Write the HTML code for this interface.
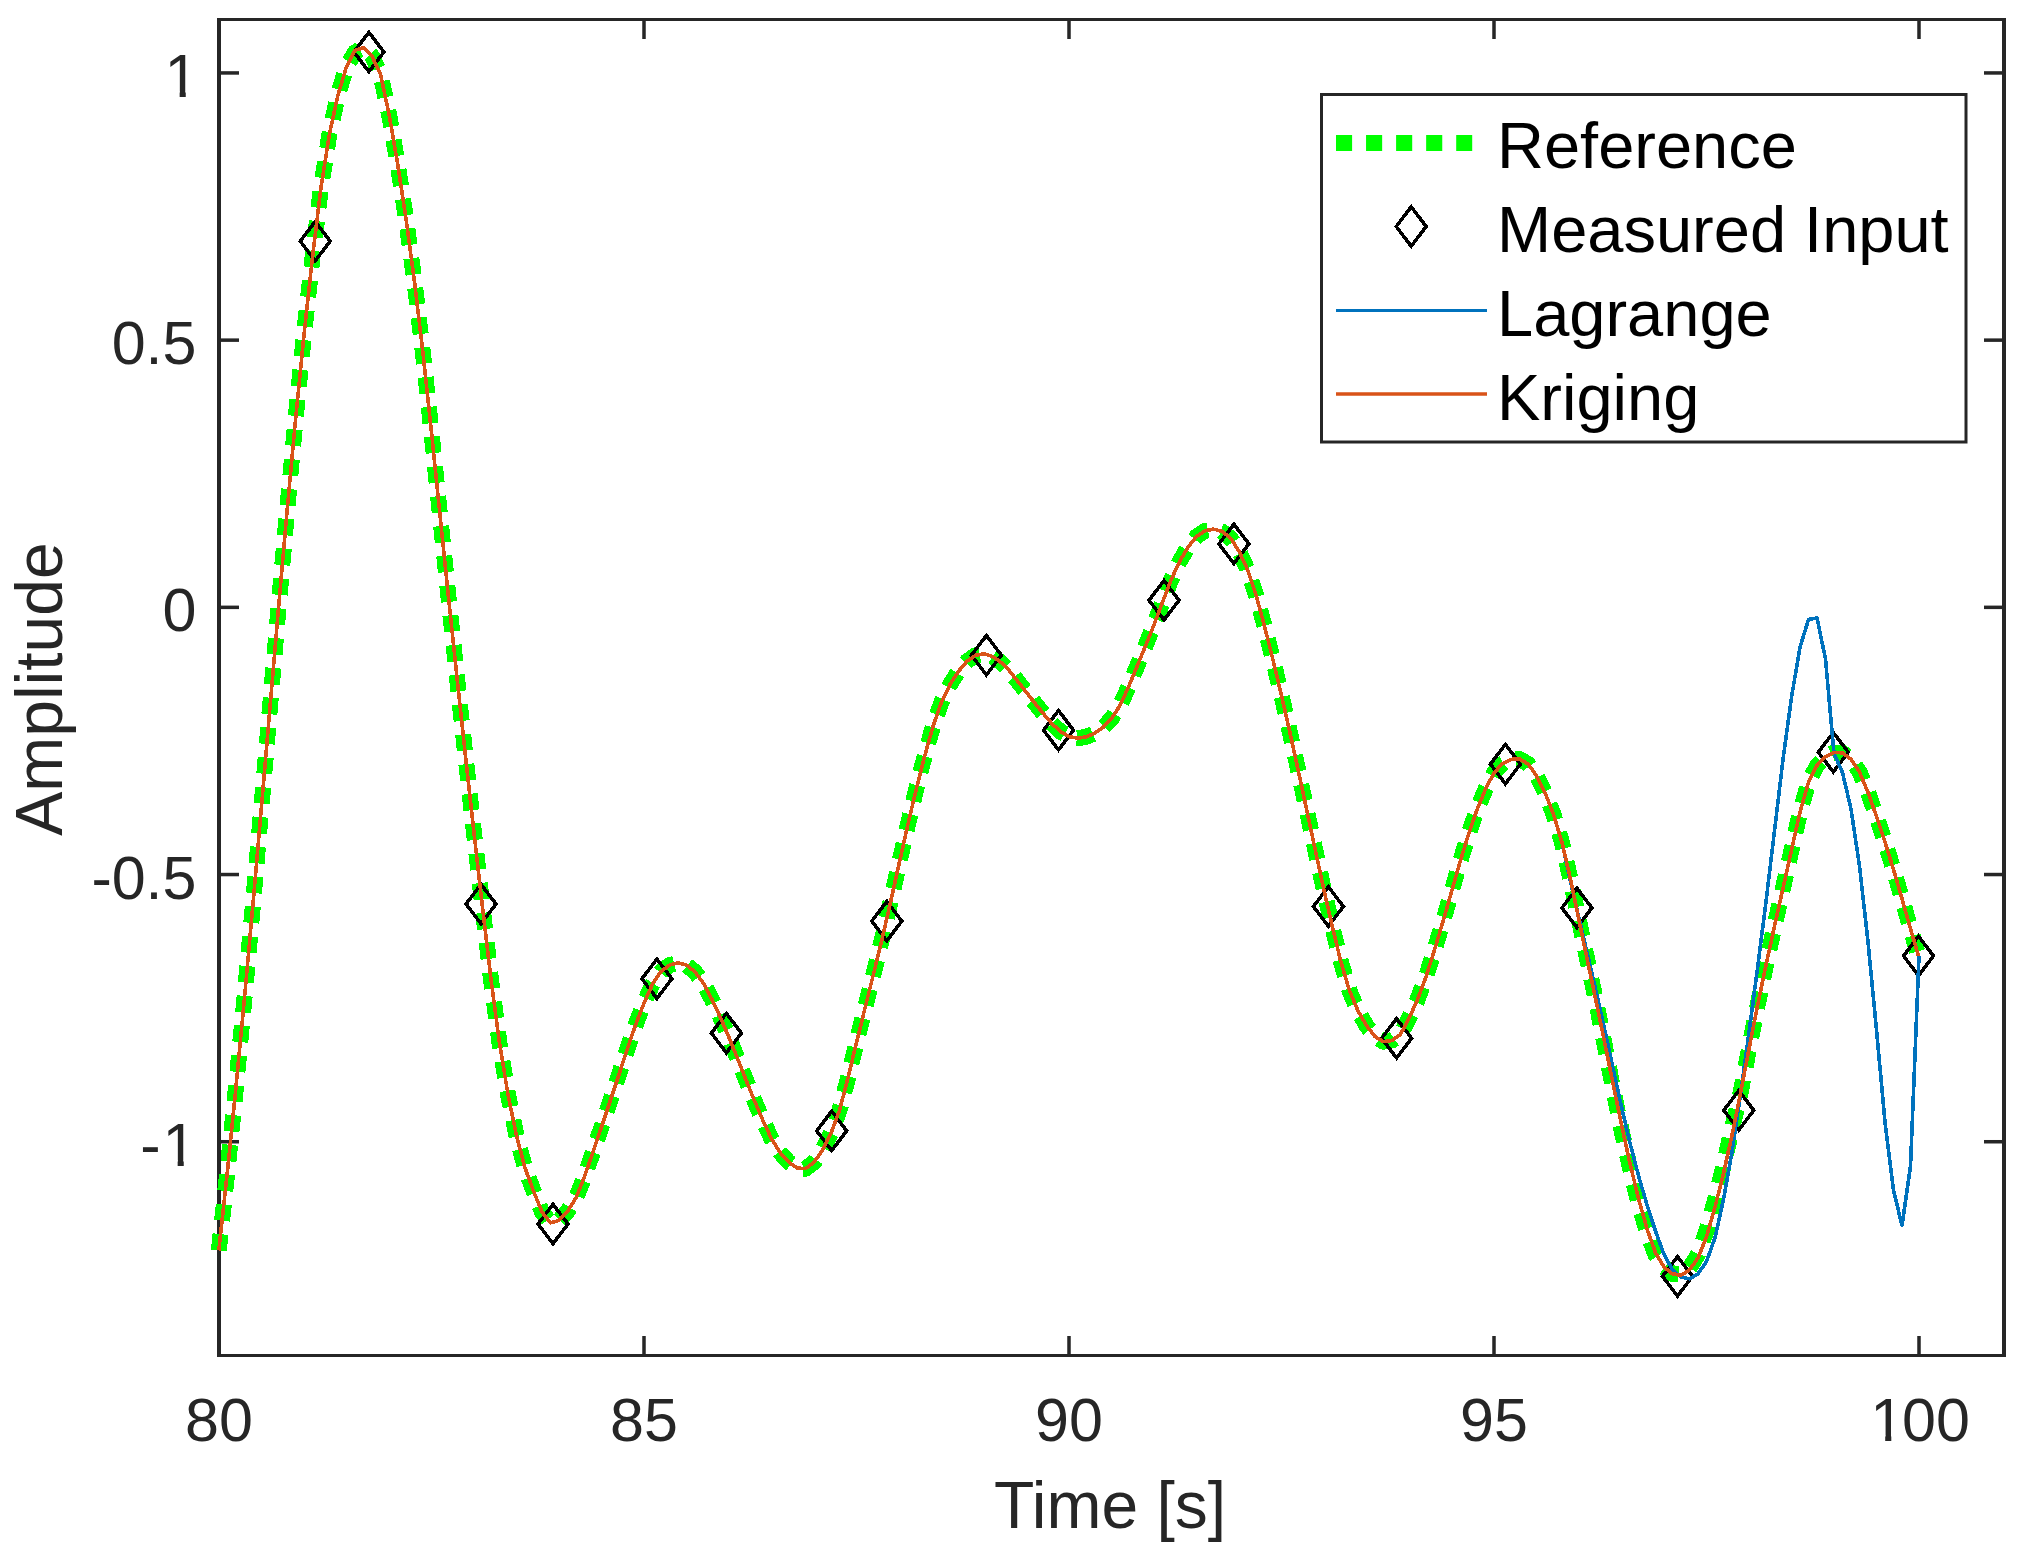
<!DOCTYPE html>
<html><head><meta charset="utf-8"><title>Interpolation comparison</title>
<style>
html,body{margin:0;padding:0;background:#fff;}
svg{display:block;}
text{font-family:"Liberation Sans",sans-serif;}
.tk{font-size:61px;fill:#262626;}
.lb{font-size:66px;fill:#262626;}
.lg{font-size:65px;fill:#000;}
</style></head><body>
<svg width="2025" height="1559" viewBox="0 0 2025 1559">
<rect x="0" y="0" width="2025" height="1559" fill="#fff"/>

<g fill="#262626">
<rect x="217" y="18" width="1789" height="3"/>
<rect x="217" y="1354" width="1789" height="3"/>
<rect x="217" y="18" width="4" height="1339"/>
<rect x="2002" y="18" width="4" height="1339"/>
<rect x="642.25" y="1336" width="3.5" height="19"/>
<rect x="642.25" y="20" width="3.5" height="19"/>
<rect x="1067.25" y="1336" width="3.5" height="19"/>
<rect x="1067.25" y="20" width="3.5" height="19"/>
<rect x="1492.25" y="1336" width="3.5" height="19"/>
<rect x="1492.25" y="20" width="3.5" height="19"/>
<rect x="1917.25" y="1336" width="3.5" height="19"/>
<rect x="1917.25" y="20" width="3.5" height="19"/>
<rect x="220" y="71.19" width="19" height="3.5"/>
<rect x="1984" y="71.19" width="19" height="3.5"/>
<rect x="220" y="338.39" width="19" height="3.5"/>
<rect x="1984" y="338.39" width="19" height="3.5"/>
<rect x="220" y="605.59" width="19" height="3.5"/>
<rect x="1984" y="605.59" width="19" height="3.5"/>
<rect x="220" y="872.79" width="19" height="3.5"/>
<rect x="1984" y="872.79" width="19" height="3.5"/>
<rect x="220" y="1139.99" width="19" height="3.5"/>
<rect x="1984" y="1139.99" width="19" height="3.5"/>
</g>

<path d="M218.8,1250.5 L227.5,1170.6 L236.0,1086.9 L244.5,997.8 L253.0,903.9 L261.5,806.3 L270.0,707.0 L278.5,608.2 L287.0,511.8 L295.5,420.0 L304.0,334.7 L312.5,257.1 L321.0,187.5 L329.5,133.6 L338.0,94.9 L346.5,66.6 L355.0,52.3 L363.5,47.7 L372.0,56.2 L380.5,74.3 L389.0,114.0 L397.5,163.1 L406.0,218.6 L414.5,281.8 L423.0,353.3 L431.5,432.4 L440.0,515.2 L448.5,597.2 L457.0,677.6 L465.5,756.2 L474.0,832.8 L482.5,907.3 L491.0,979.4 L499.5,1043.2 L508.0,1094.5 L516.5,1135.8 L525.0,1167.9 L533.5,1191.0 L542.0,1212.0 L550.5,1222.9 L559.0,1220.4 L567.5,1211.4 L576.0,1197.9 L584.5,1176.6 L593.0,1152.0 L601.5,1126.9 L610.0,1101.7 L618.5,1076.0 L627.0,1049.9 L635.5,1025.1 L644.0,1003.1 L652.5,984.2 L661.0,971.4 L669.5,965.1 L678.0,962.9 L686.5,965.1 L695.0,971.9 L703.5,983.5 L712.0,999.5 L720.5,1017.7 L729.0,1037.5 L737.5,1058.5 L746.0,1079.9 L754.5,1100.9 L763.0,1120.7 L771.5,1138.8 L780.0,1152.5 L788.5,1161.9 L797.0,1168.0 L805.5,1168.7 L814.0,1162.4 L822.5,1150.0 L831.0,1133.2 L839.5,1110.3 L848.0,1078.1 L856.5,1042.3 L865.0,1008.1 L873.5,974.2 L882.0,939.3 L890.5,902.3 L899.0,864.1 L907.5,826.2 L916.0,790.1 L924.5,756.7 L933.0,726.3 L941.5,702.1 L950.0,684.5 L958.5,671.3 L967.0,661.3 L975.5,655.3 L984.0,653.8 L992.5,656.5 L1001.0,662.4 L1009.5,670.9 L1018.0,681.6 L1026.5,692.5 L1035.0,703.3 L1043.5,713.8 L1052.0,723.7 L1060.5,731.6 L1069.0,736.6 L1077.5,738.2 L1086.0,736.9 L1094.5,733.3 L1103.0,727.5 L1111.5,718.7 L1120.0,705.4 L1128.5,687.0 L1137.0,666.5 L1145.5,645.9 L1154.0,624.7 L1162.5,602.3 L1171.0,580.1 L1179.5,561.5 L1188.0,547.2 L1196.5,536.6 L1205.0,530.8 L1213.5,529.1 L1222.0,531.4 L1230.5,538.1 L1239.0,551.1 L1247.5,569.7 L1256.0,594.8 L1264.5,626.1 L1273.0,659.9 L1281.5,695.5 L1290.0,732.9 L1298.5,771.7 L1307.0,811.3 L1315.5,851.2 L1324.0,890.3 L1332.5,927.5 L1341.0,962.2 L1349.5,990.8 L1358.0,1010.9 L1366.5,1025.6 L1375.0,1036.6 L1383.5,1041.7 L1392.0,1040.5 L1400.5,1034.3 L1409.0,1018.3 L1417.5,999.6 L1426.0,976.8 L1434.5,949.9 L1443.0,921.4 L1451.5,891.8 L1460.0,862.2 L1468.5,834.2 L1477.0,809.8 L1485.5,789.2 L1494.0,772.8 L1502.5,763.6 L1511.0,759.4 L1519.5,758.9 L1528.0,763.9 L1536.5,775.6 L1545.0,792.5 L1553.5,814.3 L1562.0,842.6 L1570.5,879.1 L1579.0,920.4 L1587.5,960.8 L1596.0,1001.0 L1604.5,1044.0 L1613.0,1088.4 L1621.5,1130.1 L1630.0,1168.3 L1638.5,1202.7 L1647.0,1232.3 L1655.5,1254.7 L1664.0,1267.6 L1672.5,1274.0 L1681.0,1274.7 L1689.5,1267.9 L1698.0,1254.6 L1706.5,1230.7 L1715.0,1200.3 L1723.5,1165.6 L1732.0,1128.4 L1740.5,1093.1 L1749.0,1049.0 L1757.5,1005.7 L1766.0,965.1 L1774.5,926.3 L1783.0,888.1 L1791.5,850.0 L1800.0,812.1 L1808.5,782.3 L1817.0,765.5 L1825.5,756.7 L1834.0,752.5 L1842.5,752.8 L1851.0,759.2 L1859.5,772.0 L1868.0,792.4 L1876.5,816.4 L1885.0,842.1 L1893.5,869.6 L1902.0,898.7 L1910.5,928.8 L1918.5,955.9" fill="none" stroke="#00ff00" stroke-width="16" stroke-dasharray="16.45 13.48" stroke-linejoin="round" shape-rendering="crispEdges"/>

<path d="M315.2,221.5 L330.2,241.2 L315.2,260.9 L300.2,241.2Z M368.9,32.3 L383.9,52.0 L368.9,71.7 L353.9,52.0Z M481.0,884.3 L496.0,904.0 L481.0,923.7 L466.0,904.0Z M553.0,1204.3 L568.0,1224.0 L553.0,1243.7 L538.0,1224.0Z M656.9,959.1 L671.9,978.8 L656.9,998.5 L641.9,978.8Z M726.4,1013.4 L741.4,1033.1 L726.4,1052.8 L711.4,1033.1Z M831.7,1111.2 L846.7,1130.9 L831.7,1150.6 L816.7,1130.9Z M886.8,901.4 L901.8,921.1 L886.8,940.8 L871.8,921.1Z M986.4,635.5 L1001.4,655.2 L986.4,674.9 L971.4,655.2Z M1058.5,710.5 L1073.5,730.2 L1058.5,749.9 L1043.5,730.2Z M1164.0,580.6 L1179.0,600.3 L1164.0,620.0 L1149.0,600.3Z M1233.9,524.2 L1248.9,543.9 L1233.9,563.6 L1218.9,543.9Z M1328.4,886.8 L1343.4,906.5 L1328.4,926.2 L1313.4,906.5Z M1396.6,1018.6 L1411.6,1038.3 L1396.6,1058.0 L1381.6,1038.3Z M1505.4,744.4 L1520.4,764.1 L1505.4,783.8 L1490.4,764.1Z M1576.9,888.2 L1591.9,907.9 L1576.9,927.6 L1561.9,907.9Z M1677.5,1256.6 L1692.5,1276.3 L1677.5,1296.0 L1662.5,1276.3Z M1738.8,1090.6 L1753.8,1110.3 L1738.8,1130.0 L1723.8,1110.3Z M1833.3,732.5 L1848.3,752.2 L1833.3,771.9 L1818.3,752.2Z M1918.5,936.2 L1933.5,955.9 L1918.5,975.6 L1903.5,955.9Z" fill="none" stroke="#000" stroke-width="3.5" stroke-linejoin="miter" shape-rendering="crispEdges"/>

<path d="M218.8,1250.5 L227.5,1170.6 L236.0,1086.9 L244.5,997.8 L253.0,903.9 L261.5,806.3 L270.0,707.0 L278.5,608.2 L287.0,511.8 L295.5,420.0 L304.0,334.7 L312.5,257.1 L321.0,187.5 L329.5,133.6 L338.0,94.9 L346.5,66.6 L355.0,50.4 L363.5,47.7 L372.0,56.2 L380.5,74.3 L389.0,114.0 L397.5,163.1 L406.0,218.6 L414.5,281.8 L423.0,353.3 L431.5,432.4 L440.0,515.2 L448.5,597.2 L457.0,677.6 L465.5,756.2 L474.0,832.8 L482.5,907.3 L491.0,979.4 L499.5,1043.2 L508.0,1094.5 L516.5,1135.8 L525.0,1167.9 L533.5,1191.0 L542.0,1212.0 L550.5,1222.9 L559.0,1220.4 L567.5,1211.4 L576.0,1197.9 L584.5,1176.6 L593.0,1152.0 L601.5,1126.9 L610.0,1101.7 L618.5,1076.0 L627.0,1049.9 L635.5,1025.1 L644.0,1003.1 L652.5,984.2 L661.0,971.4 L669.5,965.1 L678.0,962.9 L686.5,965.1 L695.0,971.9 L703.5,983.5 L712.0,999.5 L720.5,1017.7 L729.0,1037.5 L737.5,1058.5 L746.0,1079.9 L754.5,1100.9 L763.0,1120.7 L771.5,1138.8 L780.0,1152.5 L788.5,1161.9 L797.0,1168.0 L805.5,1168.7 L814.0,1162.4 L822.5,1150.0 L831.0,1133.2 L839.5,1110.3 L848.0,1078.1 L856.5,1042.3 L865.0,1008.1 L873.5,974.2 L882.0,939.3 L890.5,902.3 L899.0,864.1 L907.5,826.2 L916.0,790.1 L924.5,756.7 L933.0,726.3 L941.5,702.1 L950.0,684.5 L958.5,671.3 L967.0,661.3 L975.5,655.3 L984.0,653.8 L992.5,656.5 L1001.0,662.4 L1009.5,670.9 L1018.0,681.6 L1026.5,692.5 L1035.0,703.3 L1043.5,713.8 L1052.0,723.7 L1060.5,731.6 L1069.0,736.6 L1077.5,738.2 L1086.0,736.9 L1094.5,733.3 L1103.0,727.5 L1111.5,718.7 L1120.0,705.4 L1128.5,687.0 L1137.0,666.5 L1145.5,645.9 L1154.0,624.7 L1162.5,602.3 L1171.0,580.1 L1179.5,561.5 L1188.0,547.2 L1196.5,536.6 L1205.0,530.8 L1213.5,529.1 L1222.0,531.4 L1230.5,538.1 L1239.0,551.1 L1247.5,569.7 L1256.0,594.8 L1264.5,626.1 L1273.0,659.9 L1281.5,695.5 L1290.0,732.9 L1298.5,771.7 L1307.0,811.3 L1315.5,851.2 L1324.0,890.3 L1332.5,927.5 L1341.0,962.2 L1349.5,990.8 L1358.0,1010.9 L1366.5,1025.6 L1375.0,1036.6 L1383.5,1041.7 L1392.0,1040.5 L1400.5,1034.3 L1409.0,1018.3 L1417.5,999.6 L1426.0,976.8 L1434.5,949.9 L1443.0,921.4 L1451.5,891.8 L1460.0,862.2 L1468.5,834.2 L1477.0,809.8 L1485.5,789.2 L1494.0,772.8 L1502.5,763.6 L1511.0,759.4 L1519.5,758.9 L1528.0,763.9 L1536.5,775.6 L1545.0,792.5 L1553.5,814.3 L1562.0,842.6 L1570.5,881.5 L1579.0,918.4 L1587.5,954.5 L1596.0,991.0 L1604.5,1028.8 L1613.0,1068.1 L1621.5,1106.8 L1630.0,1143.0 L1638.5,1175.7 L1647.0,1204.9 L1655.5,1231.0 L1664.0,1254.4 L1672.5,1269.9 L1681.0,1277.1 L1689.5,1278.8 L1698.0,1273.8 L1706.5,1261.6 L1715.0,1237.7 L1723.5,1199.4 L1732.0,1151.9 L1740.5,1094.5 L1749.0,1032.4 L1757.5,968.4 L1766.0,901.7 L1774.5,830.9 L1783.0,759.4 L1791.5,697.4 L1800.0,647.1 L1808.5,619.5 L1817.0,617.9 L1825.5,659.0 L1834.0,753.5 L1842.5,772.6 L1851.0,809.0 L1859.5,866.0 L1868.0,942.0 L1876.5,1030.0 L1885.0,1122.0 L1893.5,1190.0 L1902.0,1225.5 L1910.5,1166.0 L1919.0,956.0" fill="none" stroke="#0072bd" stroke-width="3.6" stroke-linejoin="round" shape-rendering="crispEdges"/>

<path d="M218.8,1250.5 L227.5,1170.6 L236.0,1086.9 L244.5,997.8 L253.0,903.9 L261.5,806.3 L270.0,707.0 L278.5,608.2 L287.0,511.8 L295.5,420.0 L304.0,334.7 L312.5,257.1 L321.0,187.5 L329.5,133.6 L338.0,94.9 L346.5,66.6 L355.0,50.4 L363.5,47.7 L372.0,56.2 L380.5,74.3 L389.0,114.0 L397.5,163.1 L406.0,218.6 L414.5,281.8 L423.0,353.3 L431.5,432.4 L440.0,515.2 L448.5,597.2 L457.0,677.6 L465.5,756.2 L474.0,832.8 L482.5,907.3 L491.0,979.4 L499.5,1043.2 L508.0,1094.5 L516.5,1135.8 L525.0,1167.9 L533.5,1191.0 L542.0,1212.0 L550.5,1222.9 L559.0,1220.4 L567.5,1211.4 L576.0,1197.9 L584.5,1176.6 L593.0,1152.0 L601.5,1126.9 L610.0,1101.7 L618.5,1076.0 L627.0,1049.9 L635.5,1025.1 L644.0,1003.1 L652.5,984.2 L661.0,971.4 L669.5,965.1 L678.0,962.9 L686.5,965.1 L695.0,971.9 L703.5,983.5 L712.0,999.5 L720.5,1017.7 L729.0,1037.5 L737.5,1058.5 L746.0,1079.9 L754.5,1100.9 L763.0,1120.7 L771.5,1138.8 L780.0,1152.5 L788.5,1161.9 L797.0,1168.0 L805.5,1168.7 L814.0,1162.4 L822.5,1150.0 L831.0,1133.2 L839.5,1110.3 L848.0,1078.1 L856.5,1042.3 L865.0,1008.1 L873.5,974.2 L882.0,939.3 L890.5,902.3 L899.0,864.1 L907.5,826.2 L916.0,790.1 L924.5,756.7 L933.0,726.3 L941.5,702.1 L950.0,684.5 L958.5,671.3 L967.0,661.3 L975.5,655.3 L984.0,653.8 L992.5,656.5 L1001.0,662.4 L1009.5,670.9 L1018.0,681.6 L1026.5,692.5 L1035.0,703.3 L1043.5,713.8 L1052.0,723.7 L1060.5,731.6 L1069.0,736.6 L1077.5,738.2 L1086.0,736.9 L1094.5,733.3 L1103.0,727.5 L1111.5,718.7 L1120.0,705.4 L1128.5,687.0 L1137.0,666.5 L1145.5,645.9 L1154.0,624.7 L1162.5,602.3 L1171.0,580.1 L1179.5,561.5 L1188.0,547.2 L1196.5,536.6 L1205.0,530.8 L1213.5,529.1 L1222.0,531.4 L1230.5,538.1 L1239.0,551.1 L1247.5,569.7 L1256.0,594.8 L1264.5,626.1 L1273.0,659.9 L1281.5,695.5 L1290.0,732.9 L1298.5,771.7 L1307.0,811.3 L1315.5,851.2 L1324.0,890.3 L1332.5,927.5 L1341.0,962.2 L1349.5,990.8 L1358.0,1010.9 L1366.5,1025.6 L1375.0,1036.6 L1383.5,1041.7 L1392.0,1040.5 L1400.5,1034.3 L1409.0,1018.3 L1417.5,999.6 L1426.0,976.8 L1434.5,949.9 L1443.0,921.4 L1451.5,891.8 L1460.0,862.2 L1468.5,834.2 L1477.0,809.8 L1485.5,789.2 L1494.0,772.8 L1502.5,763.6 L1511.0,759.4 L1519.5,758.9 L1528.0,763.9 L1536.5,775.6 L1545.0,792.5 L1553.5,814.3 L1562.0,842.6 L1570.5,879.1 L1579.0,920.4 L1587.5,960.8 L1596.0,1000.9 L1604.5,1041.7 L1613.0,1083.6 L1621.5,1124.9 L1630.0,1163.6 L1638.5,1198.4 L1647.0,1228.9 L1655.5,1252.7 L1664.0,1267.0 L1672.5,1273.8 L1681.0,1275.3 L1689.5,1269.9 L1698.0,1258.1 L1706.5,1236.7 L1715.0,1207.1 L1723.5,1173.3 L1732.0,1135.2 L1740.5,1093.1 L1749.0,1049.0 L1757.5,1005.7 L1766.0,965.1 L1774.5,926.3 L1783.0,888.1 L1791.5,850.0 L1800.0,812.1 L1808.5,782.3 L1817.0,765.5 L1825.5,756.7 L1834.0,752.5 L1842.5,752.8 L1851.0,759.2 L1859.5,772.0 L1868.0,792.4 L1876.5,816.4 L1885.0,842.1 L1893.5,869.6 L1902.0,898.7 L1910.5,928.8 L1918.5,955.9" fill="none" stroke="#d95319" stroke-width="3.6" stroke-linejoin="round" shape-rendering="crispEdges"/>

<text class="tk" x="219.0" y="1440.5" text-anchor="middle">80</text>
<text class="tk" x="644.0" y="1440.5" text-anchor="middle">85</text>
<text class="tk" x="1069.0" y="1440.5" text-anchor="middle">90</text>
<text class="tk" x="1494.0" y="1440.5" text-anchor="middle">95</text>
<text class="tk" y="1440.5"><tspan x="1870.13">1</tspan><tspan x="1902.04">00</tspan></text>
<rect x="1873.18" y="1434.89" width="12.02" height="6.71" fill="#fff"/><rect x="1891.29" y="1434.89" width="11.59" height="6.71" fill="#fff"/>
<text class="tk" x="196.5" y="364.1" text-anchor="end">0.5</text>
<text class="tk" x="196.5" y="631.3" text-anchor="end">0</text>
<text class="tk" x="196.5" y="898.5" text-anchor="end">-0.5</text>
<text class="tk" x="164.58" y="96.9">1</text>
<rect x="167.63" y="91.33" width="12.02" height="6.71" fill="#fff"/><rect x="185.75" y="91.33" width="11.59" height="6.71" fill="#fff"/>
<text class="tk" y="1165.7"><tspan x="140.27">-</tspan><tspan x="162.58">1</tspan></text>
<rect x="165.63" y="1160.13" width="12.02" height="6.71" fill="#fff"/><rect x="183.75" y="1160.13" width="11.59" height="6.71" fill="#fff"/>
<text class="lb" x="1110" y="1528" text-anchor="middle">Time [s]</text>
<text class="lb" transform="translate(62,689) rotate(-90)" text-anchor="middle">Amplitude</text>

<rect x="1321.5" y="94.5" width="644.5" height="347.5" fill="#fff" stroke="#262626" stroke-width="3"/>
<path d="M1336,143 H1472.2" stroke="#00ff00" stroke-width="16" stroke-dasharray="16.1 13.95" fill="none"/>
<path d="M1411.2,206.8 L1426.2,226.5 L1411.2,246.2 L1396.2,226.5Z" fill="none" stroke="#000" stroke-width="3.5" shape-rendering="crispEdges"/>
<path d="M1336,310.5 H1487" stroke="#0072bd" stroke-width="3.2"/>
<path d="M1336,394 H1487" stroke="#d95319" stroke-width="3.6"/>
<text class="lg" x="1497" y="168">Reference</text>
<text class="lg" x="1497" y="252">Measured Input</text>
<text class="lg" x="1497" y="336">Lagrange</text>
<text class="lg" x="1497" y="420">Kriging</text>
</svg></body></html>
